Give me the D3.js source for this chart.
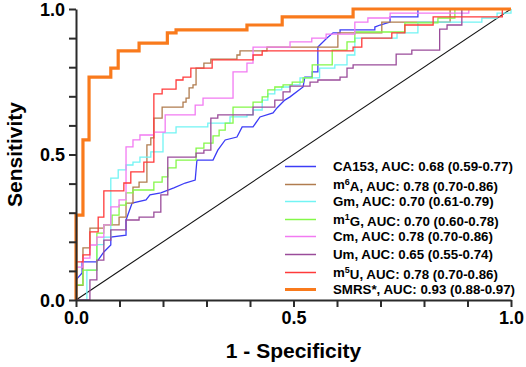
<!DOCTYPE html>
<html>
<head>
<meta charset="utf-8">
<script src="https://cdn.jsdelivr.net/npm/d3@7"></script>
<style>
  body { margin: 0; background: #fff; }
  svg { font-family: "Liberation Sans", Arial, sans-serif; }
</style>
</head>
<body>
<div id="chart"></div>
<script>
// ROC curves, points are [1 - specificity, sensitivity]
// step curves: each point is where the curve reaches a new sensitivity
const ca153 = [[0,0],[0,0.069],[0.014,0.093],[0.014,0.131],[0.048,0.131],[0.064,0.165],[0.08,0.189],[0.08,0.216],
  [0.115,0.223],[0.115,0.275],[0.129,0.333],[0.161,0.344],[0.17,0.361],[0.195,0.368],[0.225,0.385],[0.251,0.402],
  [0.274,0.412],[0.278,0.481],[0.315,0.481],[0.326,0.515],[0.343,0.55],[0.37,0.56],[0.382,0.595],[0.407,0.595],
  [0.423,0.629],[0.453,0.643],[0.462,0.66],[0.48,0.687],[0.492,0.698],[0.522,0.732],[0.526,0.766],[0.543,0.766],
  [0.543,0.784],[0.556,0.784],[0.556,0.869],[0.577,0.9],[0.591,0.918],[0.607,0.918],[0.607,0.928],[0.687,0.928],
  [0.687,0.938],[0.699,0.945],[0.722,0.955],[0.722,0.973],[0.786,0.973],[0.786,1],[1,1]]
const m6A = [[0,0],[0,0.05],[0.016,0.179],[0.032,0.247],[0.064,0.258],[0.099,0.285],[0.115,0.333],[0.131,0.388],
  [0.145,0.405],[0.163,0.533],[0.172,0.557],[0.179,0.625],[0.198,0.663],[0.246,0.68],[0.253,0.694],[0.26,0.729],
  [0.269,0.739],[0.276,0.797],[0.294,0.814],[0.31,0.828],[0.37,0.842],[0.377,0.856],[0.439,0.869],[0.602,0.918],
  [0.703,0.955],[0.86,1],[1,1]]
const gm = [[0,0],[0.025,0.103],[0.048,0.19],[0.064,0.216],[0.08,0.419],[0.097,0.447],[0.115,0.464],[0.131,0.474],
  [0.147,0.491],[0.172,0.509],[0.2,0.574],[0.23,0.595],[0.303,0.608],[0.354,0.629],[0.393,0.636],[0.407,0.653],
  [0.428,0.687],[0.441,0.708],[0.457,0.722],[0.473,0.732],[0.492,0.739],[0.515,0.763],[0.56,0.797],[0.595,0.808],
  [0.623,0.842],[0.641,0.9],[0.738,0.918],[0.786,0.955],[0.933,0.969],[0.968,0.986],[1,1]]
const m1G = [[0,0],[0,0.052],[0.016,0.103],[0.048,0.23],[0.064,0.258],[0.083,0.292],[0.099,0.326],[0.115,0.368],
  [0.131,0.378],[0.179,0.405],[0.198,0.423],[0.211,0.454],[0.23,0.481],[0.276,0.522],[0.294,0.539],[0.315,0.564],
  [0.329,0.584],[0.343,0.608],[0.361,0.663],[0.407,0.68],[0.428,0.698],[0.441,0.722],[0.457,0.732],[0.476,0.739],
  [0.497,0.749],[0.522,0.763],[0.543,0.808],[0.589,0.859],[0.623,0.887],[0.641,0.921],[0.756,0.952],[0.832,0.969],
  [0.871,1],[1,1]]
const cm = [[0,0],[0,0.113],[0.016,0.144],[0.032,0.189],[0.048,0.216],[0.064,0.258],[0.08,0.32],[0.099,0.344],
  [0.115,0.526],[0.131,0.55],[0.147,0.567],[0.179,0.577],[0.205,0.636],[0.274,0.67],[0.292,0.694],[0.361,0.784],
  [0.393,0.814],[0.407,0.869],[0.492,0.887],[0.542,0.9],[0.575,0.914],[0.641,0.955],[0.671,0.969],[0.722,0.986],
  [0.903,1],[1,1]]
const um = [[0,0],[0.032,0.069],[0.048,0.137],[0.064,0.206],[0.08,0.241],[0.115,0.275],[0.145,0.285],[0.179,0.302],
  [0.195,0.361],[0.211,0.491],[0.276,0.505],[0.294,0.515],[0.31,0.625],[0.326,0.636],[0.407,0.663],[0.457,0.687],
  [0.476,0.715],[0.492,0.735],[0.538,0.749],[0.556,0.756],[0.607,0.766],[0.623,0.797],[0.637,0.808],[0.736,0.845],
  [0.772,0.859],[0.836,0.931],[0.853,0.945],[0.887,1],[1,1]]
const m5U = [[0,0],[0,0.131],[0.016,0.155],[0.032,0.234],[0.051,0.285],[0.064,0.375],[0.11,0.402],[0.126,0.44],
  [0.156,0.474],[0.179,0.708],[0.198,0.725],[0.23,0.756],[0.246,0.766],[0.264,0.797],[0.313,0.825],[0.407,0.842],
  [0.428,0.856],[0.637,0.869],[0.657,0.9],[0.726,0.918],[0.756,0.945],[0.821,0.973],[0.98,1],[1,1]]
const smrs = [[0,0],[0,0.292],[0.016,0.55],[0.03,0.766],[0.08,0.797],[0.097,0.856],[0.145,0.883],[0.21,0.918],
  [0.23,0.928],[0.393,0.945],[0.474,0.973],[0.637,1],[1,1]]

// legend text: [name, superscript, rest of name]
const names = [['CA153', '', ''], ['m', '6', 'A'], ['Gm', '', ''], ['m', '1', 'G'],
  ['Cm', '', ''], ['Um', '', ''], ['m', '5', 'U'], ['SMRS*', '', '']]
const aucText = ['0.68 (0.59-0.77)', '0.78 (0.70-0.86)', '0.70 (0.61-0.79)', '0.70 (0.60-0.78)',
  '0.78 (0.70-0.86)', '0.65 (0.55-0.74)', '0.78 (0.70-0.86)', '0.93 (0.88-0.97)']
const seriesData = [ca153, m6A, gm, m1G, cm, um, m5U, smrs]
const colors = ['#3c3cf6', '#b07c4f', '#72f4f4', '#84f848', '#f27af2', '#9a4c9a', '#ff3a3a', '#f97a1c']

const xTickLabels = ['0.0', '0.5', '1.0']
const yTickLabels = ['0.0', '0.5', '1.0']

const svgWidth = 526
const svgHeight = 367
const margin = { top: 9, right: 15, bottom: 67, left: 76 }
const width = svgWidth - margin.left - margin.right
const height = svgHeight - margin.top - margin.bottom

const svg = d3.select('#chart')
  .append('svg')
  .attr('width', svgWidth)
  .attr('height', svgHeight)

const chartGroup = svg.append('g')
  .attr('transform', `translate(${margin.left}, ${margin.top})`)

const x = d3.scaleLinear().domain([0, 1]).range([0, width])
const y = d3.scaleLinear().domain([0, 1]).range([height, 0])

const tickVals = d3.range(11).map(i => i / 10)
const labelFor = (labels) => (d, i) => (i % 5 === 0 ? labels[i / 5] : '')

// reference line
chartGroup.append('line')
  .attr('x1', x(0)).attr('y1', y(0))
  .attr('x2', x(1)).attr('y2', y(1))
  .attr('stroke', '#111')
  .attr('stroke-width', 1.1)

// curves
const stepLine = d3.line()
  .x(d => x(d[0]))
  .y(d => y(d[1]))
  .curve(d3.curveStepAfter)
const straightLine = d3.line()
  .x(d => x(d[0]))
  .y(d => y(d[1]))

seriesData.forEach((pts, i) => {
  chartGroup.append('path')
    .datum(pts)
    .attr('d', i === 0 ? straightLine : stepLine)
    .attr('fill', 'none')
    .attr('stroke', colors[i])
    .attr('stroke-width', i === 7 ? 3.2 : 1.3)
})

// axes
const xAxis = d3.axisBottom(x).tickValues(tickVals).tickSize(7).tickSizeOuter(0)
  .tickPadding(4).tickFormat(labelFor(xTickLabels))
const yAxis = d3.axisLeft(y).tickValues(tickVals).tickSize(7).tickSizeOuter(0)
  .tickPadding(4).tickFormat(labelFor(yTickLabels))

const gx = chartGroup.append('g')
  .attr('transform', `translate(0, ${height})`)
  .call(xAxis)
const gy = chartGroup.append('g')
  .call(yAxis)

;[gx, gy].forEach(g => {
  g.select('.domain').attr('stroke', '#2b2b2b').attr('stroke-width', 2)
  g.selectAll('.tick line').attr('stroke', '#2b2b2b').attr('stroke-width', 2)
  g.selectAll('.tick text')
    .attr('fill', '#000')
    .style('font-size', '18px')
    .style('font-weight', 'bold')
    .style('font-family', '"Liberation Sans", Arial, sans-serif')
})
gy.selectAll('.tick text').attr('dy', '0.36em')

// axis titles
svg.append('text')
  .attr('x', margin.left + width / 2)
  .attr('y', 358)
  .attr('text-anchor', 'middle')
  .style('font-size', '21px')
  .style('font-weight', 'bold')
  .text('1 - Specificity')

svg.append('text')
  .attr('transform', `translate(22, ${margin.top + height / 2}) rotate(-90)`)
  .attr('text-anchor', 'middle')
  .style('font-size', '21px')
  .style('font-weight', 'bold')
  .text('Sensitivity')

// legend
const legend = svg.append('g')
  .attr('transform', 'translate(285, 166)')

names.forEach((n, i) => {
  const row = legend.append('g').attr('transform', `translate(0, ${Math.round(i * 17.6)})`)
  row.append('line')
    .attr('x1', 0).attr('x2', 31)
    .attr('y1', 0.5).attr('y2', 0.5)
    .attr('stroke', colors[i])
    .attr('stroke-width', i === 7 ? 3 : 1.5)
  const t = row.append('text')
    .attr('x', 48)
    .attr('dy', '0.36em')
    .style('font-size', '13.3px')
    .style('font-weight', 'bold')
  t.append('tspan').text(n[0])
  if (n[1]) {
    t.append('tspan').attr('dy', '-0.45em').style('font-size', '9px').text(n[1])
    t.append('tspan').attr('dy', '0.45em').text(n[2])
  }
  t.append('tspan').text(', AUC: ' + aucText[i])
})
</script>
</body>
</html>
